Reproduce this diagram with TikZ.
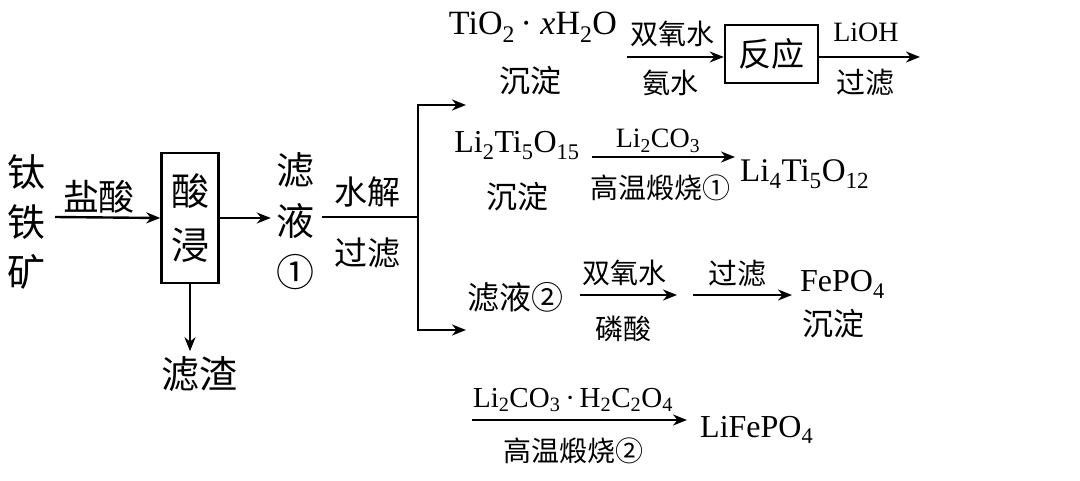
\documentclass[tikz,border=0pt]{standalone}
\usepackage{fontspec}
\setmainfont{Liberation Serif}
\newfontfamily\cjk{Noto Sans CJK SC}
\usetikzlibrary{arrows.meta}
\newcommand{\fs}[1]{\fontsize{#1}{#1}\selectfont}
\tikzset{
  arr/.style={line width=2.4pt,-{Stealth[length=14pt,width=11pt,inset=4.5pt]}},
  ln/.style={line width=2.4pt},
  box/.style={draw,line width=2.4pt,inner sep=0pt},
  cj/.style={inner sep=0pt,font=\cjk\fs{#1}},
  lt/.style={inner sep=0pt,anchor=base,font=\fs{#1}},
}
\begin{document}
\begin{tikzpicture}[x=1pt,y=-1pt]
\useasboundingbox (0,0) rectangle (1080,481);
% left part
\node[inner sep=0pt,align=center,font=\cjk\fontsize{38}{50}\selectfont] (ore) at (26,222) {钛\\铁\\矿};
\node[cj=36] (hcl) at (99,197) {盐酸};
\coordinate (a1) at (55,217);
\node[box,minimum width=57pt,minimum height=130pt,align=center,font=\cjk\fontsize{38}{54}\selectfont] (leach) at (190,218) {酸\\浸};
\draw[arr] (a1) -- (leach.west);
\node[inner sep=0pt,align=center,font=\cjk\fontsize{38}{51}\selectfont] (f1) at (295,221) {滤\\液\\①};
\draw[arr,shorten >=5pt] (leach.east) -- (f1.west |- leach.east);
\coordinate (split) at (418,217);
\draw[ln,shorten <=8pt] (f1.east |- split) -- (split);
\node[cj=33] (hyd) at (367,192) {水解};
\node[cj=33] (flt1) at (367,253) {过滤};
\coordinate (t1) at (466,105);
\coordinate (t2) at (466,330);
\draw[arr] (split) |- (t1);
\draw[arr] (split) |- (t2);
\node[cj=38] (res) at (199,374) {滤渣};
\draw[arr,shorten >=5pt] (leach.south) -- (leach.south |- res.north);
% top branch
\node[lt=34] (tio2) at (533,35) {TiO\textsubscript{2}\,· \textit{x}H\textsubscript{2}O};
\node[cj=31] (ppt1) at (530,81) {沉淀};
\coordinate (b1in) at (627,57);
\node[box,minimum width=93pt,minimum height=58pt,font=\cjk\fs{33}] (react) at (771.5,54) {反应};
\draw[arr] (b1in) -- (react.west |- b1in);
\node[cj=28] (h2o2a) at (672,34) {双氧水};
\node[cj=28] (nh3) at (670,83) {氨水};
\coordinate (b1out) at (920,57);
\draw[arr] (react.east |- b1out) -- (b1out);
\node[lt=28] (lioh) at (866,42) {LiOH};
\node[cj=29] (flt2) at (865,83) {过滤};
% Li2Ti5O15 branch
\node[lt=32] (lto15) at (517,153) {Li\textsubscript{2}Ti\textsubscript{5}O\textsubscript{15}};
\node[cj=31] (ppt2) at (517,197) {沉淀};
\coordinate (c1in) at (592,157);
\node[lt=33,anchor=base west] (lto12) at (740,182) {Li\textsubscript{4}Ti\textsubscript{5}O\textsubscript{12}};
\draw[arr,shorten >=5pt] (c1in) -- (lto12.west |- c1in);
\node[lt=28] (li2co3a) at (658,148) {Li\textsubscript{2}CO\textsubscript{3}};
\node[cj=28] (calc1) at (660,188) {高温煅烧①};
% filtrate 2 branch
\node[cj=32] (f2) at (515,297) {滤液②};
\coordinate (d1) at (580,295);
\coordinate (d2) at (677,295);
\draw[arr] (d1) -- (d2);
\node[cj=28] (h2o2b) at (624,273) {双氧水};
\node[cj=28] (h3po4) at (623,329) {磷酸};
\coordinate (d3) at (693,295);
\node[lt=32,anchor=base west] (fepo4) at (800,292) {FePO\textsubscript{4}};
\draw[arr,shorten >=8pt] (d3) -- (fepo4.west |- d3);
\node[cj=29] (flt3) at (737,274) {过滤};
\node[cj=31] (ppt3) at (833,324) {沉淀};
% bottom
\coordinate (e1) at (472,420);
\node[lt=32,anchor=base west] (lfp) at (700,437) {LiFePO\textsubscript{4}};
\draw[arr,shorten >=13pt] (e1) -- (lfp.west |- e1);
\node[lt=29] (mix) at (573,407) {Li\textsubscript{2}CO\textsubscript{3}\,·\,H\textsubscript{2}C\textsubscript{2}O\textsubscript{4}};
\node[cj=28] (calc2) at (573,451) {高温煅烧②};
\end{tikzpicture}
\end{document}
